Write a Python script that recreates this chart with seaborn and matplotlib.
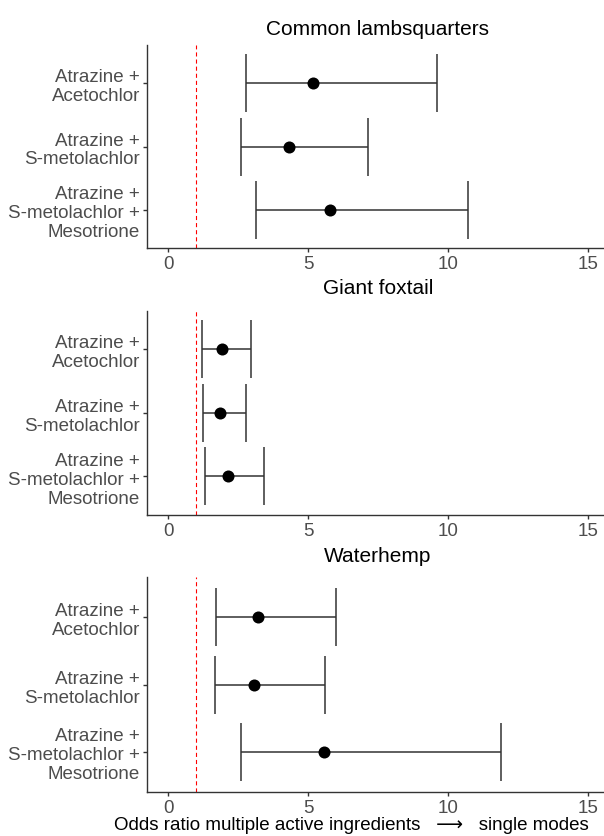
import pandas as pd
import numpy as np
import matplotlib
matplotlib.use("Agg")
import matplotlib.pyplot as plt
import seaborn as sns

# odds ratios with 95% intervals
species = ["Common lambsquarters", "Giant foxtail", "Waterhemp"]
treatments = ["Atrazine +\nAcetochlor",
              "Atrazine +\nS-metolachlor",
              "Atrazine +\nS-metolachlor +\nMesotrione"]

odds_lambsquarters = [5.19, 4.32, 5.80]
lower_lambsquarters = [2.80, 2.60, 3.13]
upper_lambsquarters = [9.61, 7.16, 10.70]

odds_foxtail = [1.92, 1.87, 2.14]
lower_foxtail = [1.23, 1.25, 1.32]
upper_foxtail = [2.96, 2.80, 3.43]

odds_waterhemp = [3.21, 3.06, 5.57]
lower_waterhemp = [1.73, 1.67, 2.61]
upper_waterhemp = [6.01, 5.62, 11.91]

reference_line = 1
x_ticks = [0, 5, 10, 15]
x_label = "Odds ratio multiple active ingredients   \u27f6   single modes"

rows = []
for sp, odds, lo, hi in zip(species,
                            [odds_lambsquarters, odds_foxtail, odds_waterhemp],
                            [lower_lambsquarters, lower_foxtail, lower_waterhemp],
                            [upper_lambsquarters, upper_foxtail, upper_waterhemp]):
    for t, o, l, h in zip(treatments, odds, lo, hi):
        rows.append({"species": sp, "treatment": t, "odds": o, "lower": l, "upper": h})
df = pd.DataFrame(rows)

sns.set_style("white")
plt.rcParams["font.family"] = ["Liberation Sans", "DejaVu Sans"]

fig = plt.figure(figsize=(6.04, 8.37), dpi=100)
W, H = 604, 837
# axes boxes in pixels: left, top, right, bottom
boxes = [(147, 46, 609, 249), (147, 311.7, 609, 515.7), (147, 578, 609, 793.3)]
title_pads = [8, 13, 11.5]

for sp, box, pad in zip(species, boxes, title_pads):
    l, t, r, b = box
    ax = fig.add_axes([l / W, 1 - b / H, (r - l) / W, (b - t) / H])
    sub = df[df["species"] == sp]

    ax.axvline(reference_line, color="red", lw=0.8, ls=(0, (3.7, 2.7)), zorder=1)
    ax.errorbar(x=sub["odds"], y=sub["treatment"],
                xerr=[sub["odds"] - sub["lower"], sub["upper"] - sub["odds"]],
                fmt="none", ecolor="#333333", elinewidth=1.1, capsize=21,
                capthick=1.1, zorder=2)
    sns.scatterplot(data=sub, x="odds", y="treatment", color="black", s=75,
                    linewidth=0, ax=ax, zorder=3, legend=False)

    ax.set_xlim(-0.75, 15.75)
    ax.set_ylim(2.6, -0.6)
    ax.set_xticks(x_ticks)
    ax.set_xlabel("")
    ax.set_ylabel("")
    ax.set_title(sp, fontsize=15, pad=pad, color="black")
    sns.despine(ax=ax)
    for s in ["left", "bottom"]:
        ax.spines[s].set_color("#333333")
        ax.spines[s].set_linewidth(1.0)
    ax.tick_params(length=3, width=1.0, color="#333333", labelcolor="#4D4D4D",
                   labelsize=13.5, pad=2, left=True, bottom=True)
    for lab in ax.get_yticklabels():
        lab.set_linespacing(1.15)

fig.text(351 / W, 1 - 826 / H, x_label, ha="center", va="center",
         fontsize=13.5, color="black")

fig.savefig("out.png", dpi=100)
